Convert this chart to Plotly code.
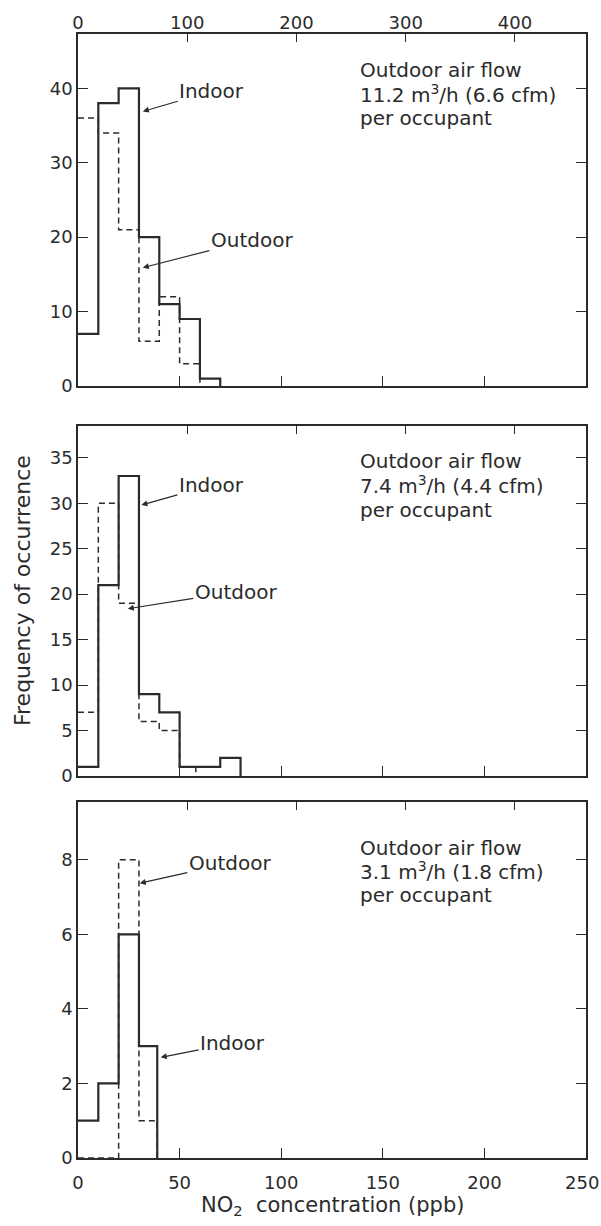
"""
NO2 frequency histograms, indoor vs outdoor, at three outdoor air flow rates
"""

import plotly.graph_objects as go

# bin edges (ppb) and counts
edges_a = [0, 10, 20, 30, 40, 50, 60, 70]
indoor_a = [7, 38, 40, 20, 11, 9, 1]
edges_a_out = [0, 10, 20, 30, 40, 50, 60]
outdoor_a = [36, 34, 21, 6, 12, 3]

edges_b = [0, 10, 20, 30, 40, 50, 60, 70, 80]
indoor_b = [1, 21, 33, 9, 7, 1, 1, 2]
edges_b_out = [0, 10, 20, 30, 40, 50, 58]
outdoor_b = [7, 30, 19, 6, 5, 1]

edges_c = [0, 10, 20, 30, 39]
indoor_c = [1, 2, 6, 3]
outdoor_c = [0, 0, 8, 1]

flow_lines = [
    ["Outdoor air flow", "11.2 m<sup>3</sup>/h (6.6 cfm)", "per occupant"],
    ["Outdoor air flow", "7.4 m<sup>3</sup>/h (4.4 cfm)", "per occupant"],
    ["Outdoor air flow", "3.1 m<sup>3</sup>/h (1.8 cfm)", "per occupant"],
]

y_ranges = [[0, 47.3], [0, 38.5], [0, 9.55]]
y_ticks = [[0, 10, 20, 30, 40], [0, 5, 10, 15, 20, 25, 30, 35], [0, 2, 4, 6, 8]]
ppb_ticks = [0, 50, 100, 150, 200, 250]
ug_ticks = [0, 100, 200, 300, 400]
ppb_max = 250
ug_max = 465  # top scale in ug/m3

INK = "#2b2b2b"
FONT = "DejaVu Sans"

W, H = 601, 1226
L, R, T, B = 78, 15, 34, 68
plot_h = H - T - B
plot_w = W - L - R
panels_px = [(34, 386), (426, 776), (802, 1158)]  # page pixels


def py(p):
    return (H - B - p) / plot_h


def px(p):
    return (p - L) / plot_w


def step(edges, counts):
    xs = list(edges)
    ys = list(counts) + [0]
    return xs, ys


fig = go.Figure()

panels = [
    (edges_a, indoor_a, edges_a_out, outdoor_a),
    (edges_b, indoor_b, edges_b_out, outdoor_b),
    (edges_c, indoor_c, edges_c, outdoor_c),
]

for i, (e_in, c_in, e_out, c_out) in enumerate(panels):
    n = i + 1
    xa = "x" if n == 1 else f"x{n}"
    ya = "y" if n == 1 else f"y{n}"
    xo, yo = step(e_out, c_out)
    fig.add_trace(go.Scatter(
        x=xo, y=yo, mode="lines", line_shape="hv",
        line=dict(color=INK, width=1.5, dash="6px,4px"),
        xaxis=xa, yaxis=ya, showlegend=False, hoverinfo="skip"
    ))
    xi, yi = step(e_in, c_in)
    fig.add_trace(go.Scatter(
        x=xi, y=yi, mode="lines", line_shape="hv",
        line=dict(color=INK, width=2.2),
        xaxis=xa, yaxis=ya, showlegend=False, hoverinfo="skip"
    ))
    # empty trace so the top ug/m3 axis gets drawn
    fig.add_trace(go.Scatter(
        x=ug_ticks, y=[None] * len(ug_ticks), mode="none",
        xaxis=f"x{n + 3}", yaxis=ya, showlegend=False, hoverinfo="skip"
    ))

# last bottom label is placed separately so it stays inside the page
bottom_text = [str(v) for v in ppb_ticks[:-1]] + [""]

layout = {}
for i, (top, bot) in enumerate(panels_px):
    n = i + 1
    sfx = "" if n == 1 else str(n)
    bottom_panel = n == 3
    tv = ppb_ticks if bottom_panel else ppb_ticks[1:-1]
    layout[f"xaxis{sfx}"] = dict(
        domain=[0, 1], anchor=f"y{sfx}", range=[0, ppb_max],
        tickvals=tv,
        ticktext=bottom_text if bottom_panel else [str(v) for v in tv],
        showticklabels=bottom_panel, ticklabeloverflow="allow",
        ticklabelstandoff=8, automargin=False,
        ticks="inside", ticklen=10, tickwidth=1.3, tickcolor=INK,
        showline=True, linecolor=INK, linewidth=1.5, mirror=True,
        showgrid=False, zeroline=False,
        tickfont=dict(family=FONT, size=18, color=INK),
    )
    layout[f"yaxis{sfx}"] = dict(
        domain=[py(bot), py(top)], anchor=f"x{sfx}", range=y_ranges[i],
        tickvals=y_ticks[i], automargin=False,
        ticks="inside", ticklen=10, tickwidth=1.3, tickcolor=INK,
        showline=True, linecolor=INK, linewidth=1.5, mirror="ticks",
        showgrid=False, zeroline=False,
        tickfont=dict(family=FONT, size=18, color=INK),
    )
    # top scale in ug/m3
    layout[f"xaxis{n + 3}"] = dict(
        overlaying="x" if n == 1 else f"x{n}", anchor=f"y{sfx}", side="top",
        range=[0, ug_max], tickvals=ug_ticks,
        showticklabels=(n == 1), ticklabeloverflow="allow",
        automargin=False,
        ticks="inside", ticklen=8, tickwidth=1.3, tickcolor=INK,
        showline=False, showgrid=False, zeroline=False,
        tickfont=dict(family=FONT, size=18, color=INK),
    )

annotations = []

annotations.append(dict(
    text=str(ppb_ticks[-1]), xref="x3", yref="paper", x=ppb_ticks[-1],
    y=py(1182), xanchor="right", yanchor="middle", xshift=15,
    showarrow=False, font=dict(family=FONT, size=18, color=INK)
))

# flow rate notes, one annotation per line (page pixel centres)
flow_centres = [[70, 94, 118], [461, 485, 510], [848, 871, 895]]
for lines, centres in zip(flow_lines, flow_centres):
    for txt, c in zip(lines, centres):
        annotations.append(dict(
            text=txt, xref="paper", yref="paper", x=px(358), y=py(c),
            xanchor="left", yanchor="middle", align="left", showarrow=False,
            font=dict(family=FONT, size=20, color=INK)
        ))

# arrow labels: (panel, text, x, y, ax, ay)
arrows = [
    (1, "Indoor", 31.9, 36.9, 69, -20),
    (1, "Outdoor", 31.9, 15.9, 109, -28),
    (2, "Indoor", 31.2, 29.8, 70, -20),
    (2, "Outdoor", 24.5, 18.4, 108, -17),
    (3, "Outdoor", 30.4, 7.37, 90, -20),
    (3, "Indoor", 40.7, 2.7, 72, -14),
]
for n, txt, x, y, ax, ay in arrows:
    sfx = "" if n == 1 else str(n)
    annotations.append(dict(
        text=txt, xref=f"x{sfx}", yref=f"y{sfx}", x=x, y=y, ax=ax, ay=ay,
        showarrow=True, arrowhead=2, arrowsize=1, arrowwidth=1.2,
        arrowcolor=INK, font=dict(family=FONT, size=20, color=INK)
    ))

annotations.append(dict(
    text="Frequency of occurrence", xref="paper", yref="paper",
    x=px(22), y=py(591), textangle=-90, showarrow=False,
    xanchor="center", yanchor="middle",
    font=dict(family=FONT, size=22, color=INK)
))
annotations.append(dict(
    text="NO<sub>2</sub>  concentration (ppb)", xref="paper", yref="paper",
    x=px(332), y=py(1206), showarrow=False,
    xanchor="center", yanchor="middle",
    font=dict(family=FONT, size=21, color=INK)
))

fig.update_layout(
    **layout,
    annotations=annotations,
    width=W, height=H,
    margin=dict(l=L, r=R, t=T, b=B, autoexpand=False),
    plot_bgcolor="white", paper_bgcolor="white",
    showlegend=False,
)

# drop the default body margin so the figure sits at the page corner
fig.write_html(
    "out.html",
    config={"displayModeBar": False},
    post_script="document.body.style.margin='0';"
                "document.body.style.overflow='hidden';",
)
